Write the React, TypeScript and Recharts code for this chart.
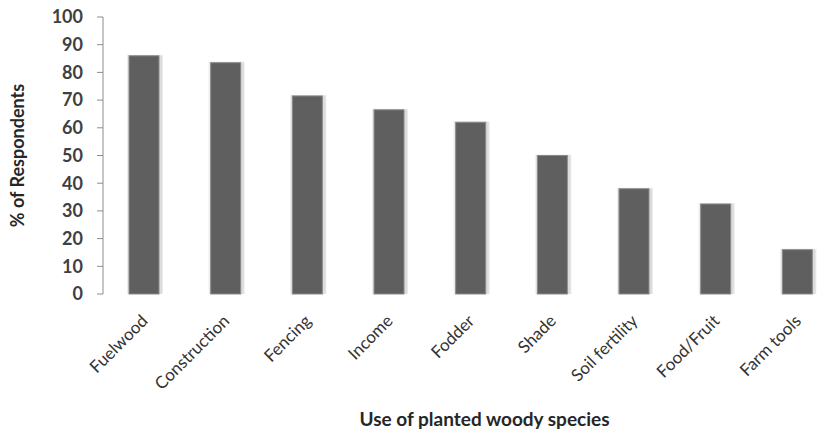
import { BarChart, Bar, XAxis, YAxis, Label } from 'recharts'

const uses = ['Fuelwood', 'Construction', 'Fencing', 'Income', 'Fodder', 'Shade', 'Soil fertility', 'Food/Fruit', 'Farm tools']
const respondents = [86, 83.5, 71.5, 66.5, 62, 50, 38, 32.5, 16]
const yTicks = [0, 10, 20, 30, 40, 50, 60, 70, 80, 90, 100]
const edgeTicks = [0, 1, 2, 3, 4, 5, 6, 7, 8, 9]

const data = uses.map((name, i) => ({ name, value: respondents[i] }))

const font = 'Lato, "Open Sans", sans-serif'

// dark bar with a faint soft glow around it
function ShadowBar(props: any) {
  const { x, y, width, height } = props
  if (!height || height <= 0) return null
  return (
    <g>
      <rect x={x - 2} y={y - 1} width={width + 6} height={height + 1} fill="#ebebeb" />
      <rect x={x} y={y} width={width + 3} height={height} fill="#dcdcdc" />
      <rect x={x} y={y} width={width} height={height} fill="#5f5f5f" stroke="#8a8a8a" strokeWidth={1} />
    </g>
  )
}

function XTick(props: any) {
  const { x, y, payload } = props
  return (
    <text
      x={x + 5}
      y={y + 20}
      transform={`rotate(-45, ${x + 5}, ${y + 20})`}
      textAnchor="end"
      fontSize={17}
      fontFamily={font}
      fill="#333333"
    >
      {payload.value}
    </text>
  )
}

export default function App() {
  return (
    <div style={{ position: 'absolute', left: 0, top: 0, background: '#fff' }}>
      <BarChart width={829} height={434} data={data} margin={{ top: 17, right: -9, bottom: 40, left: 0 }} barSize={30}>
        {/* boundary ticks between categories, like the original axis */}
        <XAxis
          xAxisId="edges"
          type="number"
          domain={[0, 9]}
          ticks={edgeTicks}
          height={0}
          tick={false}
          tickSize={6}
          axisLine={{ stroke: '#8c8c8c' }}
          tickLine={{ stroke: '#8c8c8c' }}
        />
        <XAxis
          xAxisId="cat"
          dataKey="name"
          interval={0}
          height={100}
          tick={<XTick />}
          tickSize={6}
          axisLine={false}
          tickLine={false}
        >
          <Label
            value="Use of planted woody species"
            position="insideBottom"
            offset={-32}
            dx={14}
            style={{ fontFamily: font, fontSize: 19, fontWeight: 700, fill: '#262626' }}
          />
        </XAxis>
        <YAxis
          domain={[0, 100]}
          ticks={yTicks}
          width={103}
          tickSize={6}
          tickMargin={14}
          axisLine={{ stroke: '#8c8c8c' }}
          tickLine={{ stroke: '#8c8c8c' }}
          tick={{ fontFamily: font, fontSize: 18, fontWeight: 700, fill: '#404040' }}
        >
          <Label
            value="% of Respondents"
            angle={-90}
            position="insideLeft"
            offset={18}
            style={{ textAnchor: 'middle', fontFamily: font, fontSize: 18, fontWeight: 700, fill: '#262626' }}
          />
        </YAxis>
        <Bar dataKey="value" xAxisId="cat" isAnimationActive={false} shape={<ShadowBar />} />
      </BarChart>
    </div>
  )
}
